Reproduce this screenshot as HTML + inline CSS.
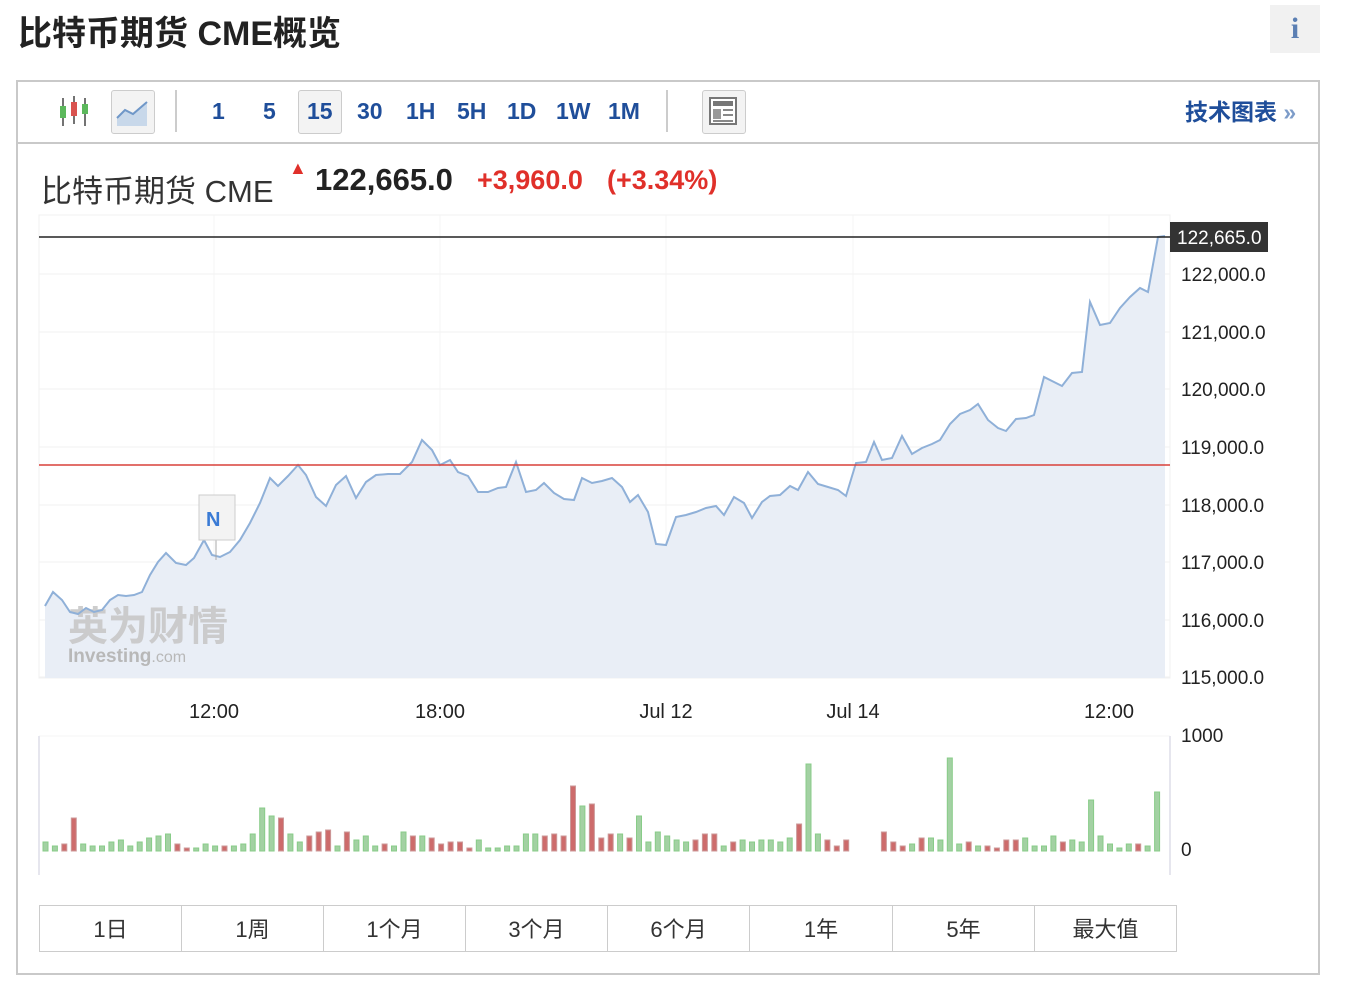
<!DOCTYPE html>
<html><head><meta charset="utf-8"><style>
body{margin:0;width:1352px;height:1006px;background:#fff;font-family:"Liberation Sans","Noto Sans CJK SC",sans-serif;position:relative;overflow:hidden}
.a{position:absolute}
.tf{color:#1f4e9a;font-weight:bold;font-size:23px;top:98px}
.tab{position:absolute;top:905px;height:47px;border:1px solid #ccc;background:#fff;font-size:22px;color:#333;text-align:center;line-height:47px;box-sizing:border-box}
</style></head><body>
<div class="a" style="left:18px;top:6px;font-size:34px;font-weight:bold;color:#222">比特币期货 CME概览</div>
<div class="a" style="left:1270px;top:5px;width:50px;height:48px;background:#f1f1f1;color:#5b7fb3;font-family:'Liberation Serif',serif;font-weight:bold;font-size:30px;text-align:center;line-height:48px">i</div>
<div class="a" style="left:16px;top:80px;width:1300px;height:891px;border:2px solid #c9c9c9"></div>
<div class="a" style="left:18px;top:142px;width:1300px;height:2px;background:#c9c9c9"></div>
<svg class="a" style="left:55px;top:92px" width="40" height="40"><g stroke="#444" stroke-width="1.5"><line x1="8" y1="6" x2="8" y2="34"/><line x1="19" y1="4" x2="19" y2="32"/><line x1="30" y1="6" x2="30" y2="34"/></g><rect x="5" y="14" width="6" height="12" fill="#5cb85c"/><rect x="16" y="10" width="6" height="14" fill="#d9534f"/><rect x="27" y="12" width="6" height="10" fill="#5cb85c"/></svg>
<div class="a" style="left:111px;top:90px;width:42px;height:42px;border:1px solid #ccc;border-radius:3px;background:#f3f3f3"></div>
<svg class="a" style="left:115px;top:96px" width="36" height="32"><path d="M2 22 L10 14 L18 18 L32 6 L32 30 L2 30Z" fill="#c8d8ea"/><path d="M2 22 L10 14 L18 18 L32 6" stroke="#6f97c8" stroke-width="2" fill="none"/></svg>
<div class="a" style="left:175px;top:90px;width:2px;height:42px;background:#ccc"></div>
<div class="a" style="left:298px;top:90px;width:42px;height:42px;border:1px solid #ccc;border-radius:3px;background:#f3f3f3"></div>
<div class="a tf" style="left:212px">1</div><div class="a tf" style="left:263px">5</div><div class="a tf" style="left:307px">15</div><div class="a tf" style="left:357px">30</div><div class="a tf" style="left:406px">1H</div><div class="a tf" style="left:457px">5H</div><div class="a tf" style="left:507px">1D</div><div class="a tf" style="left:556px">1W</div><div class="a tf" style="left:608px">1M</div>
<div class="a" style="left:666px;top:90px;width:2px;height:42px;background:#ccc"></div>
<div class="a" style="left:702px;top:90px;width:42px;height:42px;border:1px solid #ccc;border-radius:3px;background:#f3f3f3"></div>
<svg class="a" style="left:709px;top:97px" width="28" height="28"><rect x="1" y="1" width="26" height="26" fill="#fff" stroke="#777" stroke-width="2"/><rect x="4" y="4" width="20" height="5" fill="#777"/><rect x="4" y="12" width="8" height="10" fill="#999"/><g stroke="#888" stroke-width="2"><line x1="14" y1="13" x2="24" y2="13"/><line x1="14" y1="18" x2="24" y2="18"/><line x1="4" y1="24" x2="24" y2="24"/></g></svg>
<div class="a" style="left:1185px;top:99px;font-size:23px;font-weight:bold;color:#1f4e9a;line-height:26px">技术图表 <span style="color:#7d9cc9">»</span></div>
<div class="a" style="left:41px;top:166px;font-size:31px;color:#333">比特币期货 CME</div>
<div class="a" style="left:289px;top:158px;color:#e0302a;font-size:18px">▲</div>
<div class="a" style="left:315px;top:162px;font-size:31px;font-weight:bold;color:#222">122,665.0</div>
<div class="a" style="left:477px;top:165px;font-size:27px;font-weight:bold;color:#e0302a">+3,960.0</div>
<div class="a" style="left:607px;top:165px;font-size:27px;font-weight:bold;color:#e0302a">(+3.34%)</div>
<svg class="a" style="left:0;top:0" width="1352" height="1006" id="c"></svg>
<div class="tab" style="left:39px;width:143px">1日</div>
<div class="tab" style="left:181px;width:143px">1周</div>
<div class="tab" style="left:323px;width:143px">1个月</div>
<div class="tab" style="left:465px;width:143px">3个月</div>
<div class="tab" style="left:607px;width:143px">6个月</div>
<div class="tab" style="left:749px;width:144px">1年</div>
<div class="tab" style="left:892px;width:143px">5年</div>
<div class="tab" style="left:1034px;width:143px">最大值</div>
<script>
var pts=[45,606,53,592,62,600,70,612,78,614,86,608,94,612,102,610,110,600,118,595,126,596,134,595,142,592,150,575,158,562,166,553,176,563,186,565,194,558,204,540,212,555,220,557,230,552,240,540,250,523,260,503,270,478,278,486,288,476,298,465,306,475,316,497,326,506,336,485,346,476,356,498,366,482,376,475,388,474,400,474,412,462,422,440,432,450,440,465,450,460,458,472,468,476,478,492,488,492,498,488,506,487,516,462,526,492,536,490,544,483,554,493,564,499,574,500,582,478,592,483,602,481,612,478,622,487,630,502,638,495,648,512,656,544,666,545,676,517,686,515,696,512,706,508,716,506,724,515,734,497,744,503,752,518,762,502,770,496,780,495,790,486,798,490,808,472,818,484,828,487,838,490,846,496,856,463,866,462,874,442,882,460,892,458,902,436,912,454,922,448,932,444,940,440,950,424,960,414,970,410,978,404,988,420,998,428,1006,431,1016,419,1026,418,1034,415,1044,377,1054,382,1062,386,1072,373,1082,372,1090,302,1100,325,1110,323,1120,308,1130,297,1140,288,1148,292,1158,237,1165,236];
var s='';
s+='<rect x="39" y="215" width="1131" height="463" fill="none" stroke="#f0f0f0"/>';
var lv=[[274,'122,000.0'],[332,'121,000.0'],[389,'120,000.0'],[447,'119,000.0'],[505,'118,000.0'],[562,'117,000.0'],[620,'116,000.0'],[677,'115,000.0']];
lv.forEach(function(l){s+='<line x1="39" x2="1170" y1="'+l[0]+'" y2="'+l[0]+'" stroke="#f2f2f2"/><text x="1181" y="'+(l[0]+7)+'" font-size="19" fill="#222">'+l[1]+'</text>';});
[214,440,666,853,1109].forEach(function(x){s+='<line x1="'+x+'" x2="'+x+'" y1="215" y2="678" stroke="#f4f4f4"/>';});
var d='M'+pts[0]+' '+pts[1];for(var i=2;i<pts.length;i+=2)d+=' L'+pts[i]+' '+pts[i+1];
s+='<path d="'+d+' L1165 678 L45 678Z" fill="#e9eef6"/>';
s+='<text x="68" y="640" font-size="40" font-weight="bold" fill="#c8c8c8" opacity="0.9">英为财情</text><text x="68" y="662" font-size="19" font-weight="bold" fill="#b8b8b8">Investing<tspan font-weight="normal" font-size="16">.com</tspan></text>';
s+='<path d="'+d+'" fill="none" stroke="#8fb0d8" stroke-width="2"/>';
s+='<line x1="39" x2="1170" y1="465" y2="465" stroke="#d9413a" stroke-width="1.5"/>';
s+='<line x1="39" x2="1170" y1="237" y2="237" stroke="#222" stroke-width="1.5"/>';
s+='<rect x="1170" y="222" width="98" height="30" fill="#333"/><text x="1177" y="244" font-size="19" fill="#fff">122,665.0</text>';
s+='<line x1="216" y1="540" x2="216" y2="560" stroke="#aaa"/><rect x="199" y="495" width="36" height="45" fill="#f3f3f3" stroke="#ccc"/><text x="206" y="526" font-size="20" font-weight="bold" fill="#3a7bd5">N</text>';
[[214,'12:00'],[440,'18:00'],[666,'Jul 12'],[853,'Jul 14'],[1109,'12:00']].forEach(function(t){s+='<text x="'+t[0]+'" y="718" font-size="20" text-anchor="middle" fill="#222">'+t[1]+'</text>';});
s+='<line x1="39" x2="1170" y1="736" y2="736" stroke="#f4f4f4"/><line x1="39" x2="39" y1="736" y2="875" stroke="#e6e6ee" stroke-width="2"/><line x1="1170" x2="1170" y1="736" y2="875" stroke="#e6e6ee" stroke-width="2"/>';
s+='<text x="1181" y="742" font-size="19" fill="#222">1000</text><text x="1181" y="856" font-size="19" fill="#222">0</text>';
var hs=[9,5,7,33,7,5,5,9,11,5,9,13,15,17,7,3,3,7,5,5,5,7,17,43,35,33,17,9,15,19,21,5,19,11,15,5,7,5,19,15,15,13,7,9,9,3,11,3,3,5,5,17,17,15,17,15,65,45,47,13,17,17,13,35,9,19,15,11,9,11,17,17,5,9,11,9,11,11,9,13,27,87,17,11,5,11,0,0,0,19,9,5,7,13,13,11,93,7,9,5,5,3,11,11,13,5,5,15,9,11,9,51,15,7,3,7,7,5,59];
var cols='ggrrggggggggggrrgggrgggggrggrrrgrgggrggrgrrrrrgggggggrrrrgrrrgrggggggrrrgrggggggrggrrrrrrrrrgrggggrgrrrrggggrgggggggrg';
for(var j=0;j<hs.length;j++){if(!hs[j])continue;var x=43+j*9.42,h=hs[j];var c=cols[j%cols.length]=='r';
s+='<rect x="'+x.toFixed(1)+'" y="'+(851-h)+'" width="5" height="'+h+'" fill="'+(c?'#cd6b6b':'#a3d1a3')+'" stroke="'+(c?'#c99':'#8c8')+'" stroke-width="1"/>';}
document.getElementById('c').innerHTML=s;
</script>
</body></html>
